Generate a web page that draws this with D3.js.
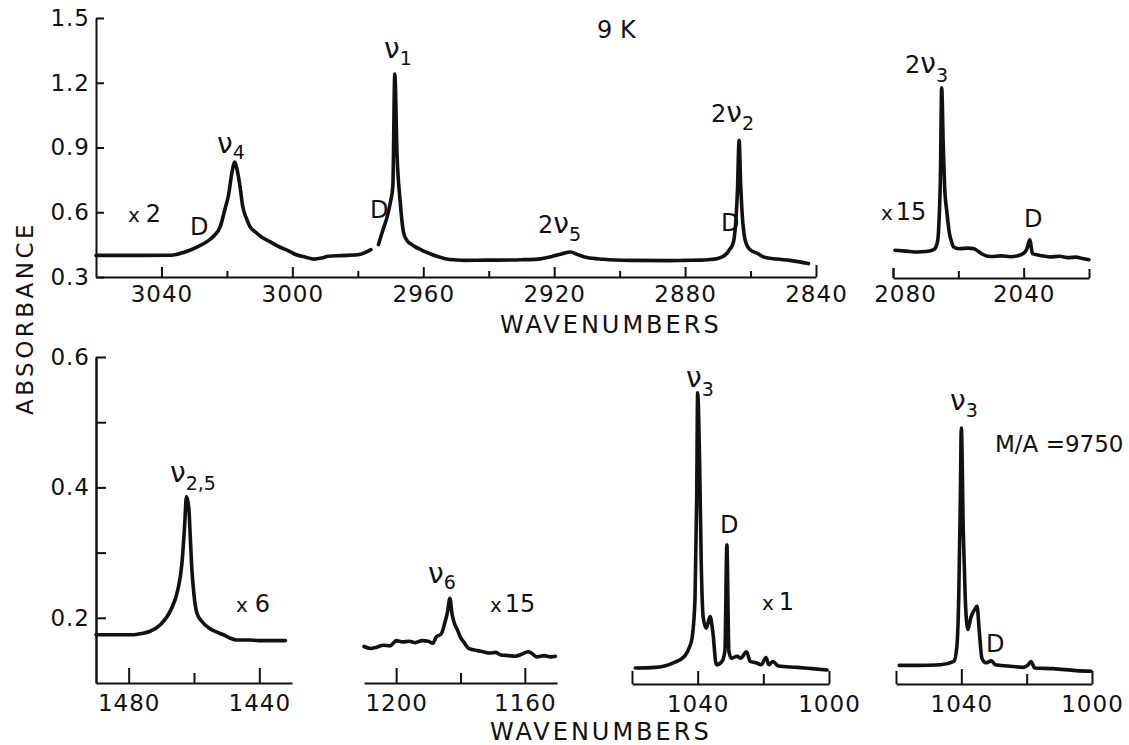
<!DOCTYPE html>
<html><head><meta charset="utf-8">
<script src="https://cdn.jsdelivr.net/npm/d3@7"></script>
<style>
body{margin:0;background:#fff}
svg text{font-family:"DejaVu Sans",sans-serif;fill:#111}
</style></head><body>
<svg id="c" width="1129" height="745"></svg>
<script>
// ---------------- data (wavenumber, absorbance) ----------------
const wnTop1 = [3060,3045,3037,3033,3029,3026,3024,3022,3020.5,3019.5,3018.5,3017.6,3016.8,3016,3015.2,3014,3013,3011,3009.7,3007,3004.3,3001,2998.8,2996,2993.3,2991,2989,2985,2980,2978,2976,2975,
  2973.7,2972.5,2971,2970,2969.3,2968.7,2968,2967.1,2966,2965,2963.5,2962.7,2960.5,2958.4,2955.6,2952.9,2950,2947.4,2940,2930,2925,2920,2917.5,2915,2913,2910,2905,2897,2885,2880,2875,2873,2870,2868.7,2867.2,2866.4,2865.5,2865,2864.5,2864,2863.5,2863,2862.6,2862,2861.2,2860,2858,2856,2852,2848,2845,2842.3];
const absTop1 = [0.400,0.400,0.401,0.415,0.440,0.465,0.490,0.535,0.620,0.680,0.780,0.833,0.790,0.720,0.630,0.570,0.535,0.505,0.488,0.465,0.442,0.420,0.403,0.392,0.383,0.388,0.396,0.399,0.403,0.412,0.427,null,
  0.450,0.510,0.581,0.650,0.720,1.240,0.860,0.658,0.504,0.470,0.450,0.442,0.425,0.411,0.395,0.383,0.379,0.377,0.378,0.380,0.383,0.398,0.408,0.416,0.405,0.390,0.382,0.377,0.376,0.377,0.378,0.380,0.386,0.393,0.410,0.427,0.450,0.480,0.560,0.700,0.933,0.720,0.600,0.500,0.450,0.425,0.410,0.393,0.383,0.377,0.370,0.362];

const wnTop2 = [2079.4,2076,2072.5,2070,2068,2067,2066.3,2065.8,2065.5,2065.1,2064.6,2064.2,2063.5,2062.7,2062,2061.5,2059.8,2057,2055.2,2054,2052.9,2050,2047,2044,2042.5,2040,2039,2038.1,2037.6,2037.3,2035,2032,2029,2026.4,2024,2022,2020];
const absTop2 = [0.424,0.420,0.416,0.418,0.424,0.435,0.470,0.600,0.750,1.177,0.900,0.720,0.600,0.500,0.460,0.440,0.431,0.434,0.431,0.420,0.408,0.395,0.398,0.394,0.396,0.410,0.431,0.473,0.430,0.408,0.400,0.393,0.396,0.390,0.392,0.386,0.380];

const wnLow1 = [1490,1479,1476,1473.6,1470.4,1467.1,1465,1463.7,1462.9,1462.3,1461.6,1461.1,1460.7,1460,1459.1,1457.5,1455.3,1453,1451,1449,1446.8,1443,1440.3,1436,1432];
const absLow1 = [0.174,0.174,0.176,0.179,0.189,0.212,0.242,0.283,0.339,0.386,0.369,0.320,0.278,0.235,0.207,0.194,0.184,0.178,0.174,0.169,0.166,0.166,0.165,0.165,0.165];

const wnLow2 = [1210,1208,1206,1204,1202,1200.9,1200,1198,1196,1194,1192,1190,1188.6,1187.5,1186,1185,1184,1183.3,1182.6,1181.8,1181,1180,1179,1177.5,1175,1173,1171,1169,1167.5,1165,1163,1161,1159,1158,1156.3,1154,1152,1150.5];
const absLow2 = [0.156,0.153,0.155,0.158,0.157,0.161,0.165,0.163,0.164,0.162,0.165,0.164,0.161,0.171,0.175,0.190,0.210,0.230,0.205,0.190,0.182,0.170,0.163,0.153,0.150,0.148,0.146,0.147,0.143,0.142,0.141,0.144,0.148,0.146,0.140,0.142,0.140,0.141];

const wnLow3 = [1059,1053,1047.4,1044,1042.5,1041.7,1040.8,1040.3,1040,1039.4,1038.9,1038.3,1037.4,1036.2,1035.4,1034.3,1032.6,1031.7,1031.1,1030.5,1029.7,1028,1026.9,1025.1,1024,1022.3,1020.6,1019.2,1018.3,1017.1,1015.4,1009.7,1005.1,1000.6];
const absLow3 = [0.123,0.124,0.131,0.141,0.155,0.169,0.230,0.384,0.545,0.435,0.281,0.200,0.184,0.202,0.179,0.128,0.133,0.149,0.312,0.149,0.138,0.141,0.138,0.148,0.133,0.131,0.128,0.139,0.128,0.133,0.126,0.124,0.122,0.120];

const wnLow4 = [1059,1053.2,1046.3,1042.3,1041.4,1040.8,1040.3,1040,1039.4,1038.8,1038,1037.1,1036,1035.2,1034.5,1033.7,1032.5,1030.8,1029.6,1025.6,1021,1019.5,1018.7,1017.5,1011.8,1004.9,1000.3];
const absLow4 = [0.127,0.127,0.128,0.133,0.154,0.230,0.384,0.491,0.332,0.230,0.182,0.200,0.212,0.218,0.179,0.138,0.131,0.134,0.128,0.126,0.124,0.128,0.133,0.123,0.122,0.119,0.118];

// ---------------- ticks ----------------
const yTicksTop = [1.5,1.2,0.9,0.6,0.3];
const yLabelsTop = ["1.5","1.2","0.9","0.6","0.3"];
const yTicksLow = [0.6,0.4,0.2];
const yLabelsLow = ["0.6","0.4","0.2"];
const yMinorLow = [0.5,0.3];

const xTicksTop1 = [3040,3000,2960,2920,2880];
const xMinorTop1 = [3020,2980,2940,2900,2860];
const xEndTop1 = [2840];
const xTicksTop2 = [2080,2040];
const xMinorTop2 = [2060];
const xEndTop2 = [2020];
const xTicksLow1 = [1480,1440];
const xMinorLow1 = [1460];
const xTicksLow2 = [1200,1160];
const xMinorLow2 = [1180];
const xTicksLow3 = [1040];
const xMinorLow3 = [1020];
const xEndLow3 = [1060,1000];
const xLabelsLow3 = [1040,1000];

// ---------------- drawing ----------------
const svg = d3.select("#c");
svg.append("rect").attr("width",1129).attr("height",745).attr("fill","#fff");

const yTop = d3.scaleLinear().domain([0.3,1.5]).range([277,18]);
const yLow = d3.scaleLinear().domain([0.1,0.6]).range([683,357]);

const xT1 = d3.scaleLinear().domain([3060,2840]).range([96,816]);
const xT2 = d3.scaleLinear().domain([2080,2020]).range([893,1089]);
const xL1 = d3.scaleLinear().domain([1490,1430]).range([96,292]);
const xL2 = d3.scaleLinear().domain([1210,1150]).range([364,557]);
const xL3 = d3.scaleLinear().domain([1060,1000]).range([632,829]);
const xL4 = d3.scaleLinear().domain([1060,1000]).range([896,1092]);

function styleAxis(g){
  g.attr("font-family",null).attr("font-size",null);
  g.selectAll("path.domain").attr("stroke","#111").attr("stroke-width",2);
  g.selectAll(".tick line").attr("stroke","#111").attr("stroke-width",2);
  g.selectAll(".tick text").attr("fill","#111").attr("font-size",23).style("letter-spacing","1px");
}
function xAxis(x, y0, vals, size, labelled, pad, showDomain){
  const ax = d3.axisBottom(x).tickValues(vals).tickSizeInner(-size).tickSizeOuter(0).tickPadding(pad)
    .tickFormat(labelled ? d3.format("d") : "");
  const g = svg.append("g").attr("transform",`translate(0,${y0})`).call(ax);
  styleAxis(g);
  if(!showDomain) g.select("path.domain").remove();
  return g;
}
function yAxis(y, x0, vals, labels, size){
  const ax = d3.axisLeft(y).tickValues(vals).tickSizeInner(-size).tickSizeOuter(0).tickPadding(6)
    .tickFormat((d,i)=>labels ? labels[i] : "");
  const g = svg.append("g").attr("transform",`translate(${x0},0)`).call(ax);
  styleAxis(g);
  return g;
}

// top panel 1
xAxis(xT1, 277, xTicksTop1, 10, true, 9, true);
xAxis(xT1, 277, xMinorTop1, 6, false, 9, false);
xAxis(xT1, 277, xEndTop1, 12, true, 9, false);
yAxis(yTop, 96, yTicksTop, yLabelsTop, 8);
// top panel 2
const gT2 = xAxis(xT2, 278, xTicksTop2, 10, true, 8, true);
gT2.selectAll(".tick text").filter(d=>d===2080).attr("dx",12);
xAxis(xT2, 278, xMinorTop2, 7, false, 9, false);
xAxis(xT2, 278, xEndTop2, 9, false, 9, false);
xAxis(xT2, 278, [2080], 10, false, 9, false);
// low panel 1
xAxis(xL1, 683, xTicksLow1, 15, true, 12, true);
xAxis(xL1, 683, xMinorLow1, 10, false, 12, false);
yAxis(yLow, 96, yTicksLow, yLabelsLow, 10);
yAxis(yLow, 96, yMinorLow, null, 10);
// low panel 2
xAxis(xL2, 683, xTicksLow2, 15, true, 12, true);
xAxis(xL2, 683, xMinorLow2, 10, false, 12, false);
// low panel 3
xAxis(xL3, 684, xLabelsLow3, 0, true, 12, true);
xAxis(xL3, 684, xTicksLow3, 13, false, 12, false);
xAxis(xL3, 684, xMinorLow3, 10, false, 12, false);
xAxis(xL3, 684, xEndLow3, 13, false, 12, false);
// low panel 4
xAxis(xL4, 684, xLabelsLow3, 0, true, 12, true);
xAxis(xL4, 684, xTicksLow3, 15, false, 12, false);
xAxis(xL4, 684, xMinorLow3, 10, false, 12, false);
xAxis(xL4, 684, xEndLow3, 13, false, 12, false);

// spectra
function spectrum(wn, ab, x, y){
  const pts = wn.map((w,i)=>({w, a:ab[i]}));
  const line = d3.line().defined(d=>d.a!=null).x(d=>x(d.w)).y(d=>y(d.a)).curve(d3.curveMonotoneX);
  svg.append("path").datum(pts).attr("d",line).attr("fill","none")
    .attr("stroke","#111").attr("stroke-width",3.6).attr("stroke-linejoin","round").attr("stroke-linecap","round");
}
spectrum(wnTop1, absTop1, xT1, yTop);
spectrum(wnTop2, absTop2, xT2, yTop);
spectrum(wnLow1, absLow1, xL1, yLow);
spectrum(wnLow2, absLow2, xL2, yLow);
spectrum(wnLow3, absLow3, xL3, yLow);
spectrum(wnLow4, absLow4, xL4, yLow);

// text annotations
function note(x, y, parts){
  const t = svg.append("text").attr("x",x).attr("y",y);
  parts.forEach(p=>{
    const s = t.append("tspan").attr("font-size",p[1]).text(p[0]);
    if(p[2]) s.attr("dy",p[2]);
    if(p[3]) s.attr("dx",p[3]);
  });
  return t;
}
note(597, 38, [["9 K",24]]);
note(217, 153, [["ν",28],["4",19,6]]);
note(384, 58, [["ν",28],["1",19,7]]);
note(538, 233, [["2",24],["ν",28],["5",19,8]]);
note(711, 122, [["2",24],["ν",28],["2",19,8]]);
note(905, 73, [["2",24],["ν",28],["3",19,9]]);
note(190, 235, [["D",24]]);
note(370, 218, [["D",24]]);
note(721, 231, [["D",24]]);
note(1024, 227, [["D",24]]);
note(720, 533, [["D",24]]);
note(986, 652, [["D",24]]);
note(128, 222, [["x",20],["2",24,0,6]]);
note(881, 220, [["x",20],["15",24,0,3]]);
note(236, 612, [["x",20],["6",24,0,7]]);
note(490, 612, [["x",20],["15",24,0,3]]);
note(762, 610, [["x",20],["1",24,0,5]]);
note(170, 482, [["ν",28],["2,5",19,8]]);
note(428, 583, [["ν",28],["6",19,6]]);
note(686, 387, [["ν",28],["3",19,9]]);
note(950, 410, [["ν",28],["3",19,7]]);
note(995, 452, [["M/A =9750",23]]);

svg.append("text").attr("x",500).attr("y",333).attr("font-size",24).style("letter-spacing","3px").text("WAVENUMBERS");
svg.append("text").attr("x",490).attr("y",740).attr("font-size",24).style("letter-spacing","3px").text("WAVENUMBERS");
svg.append("text").attr("transform","translate(33,318) rotate(-90)").attr("text-anchor","middle")
  .attr("font-size",23).style("letter-spacing","3.5px").text("ABSORBANCE");
</script>
</body></html>
